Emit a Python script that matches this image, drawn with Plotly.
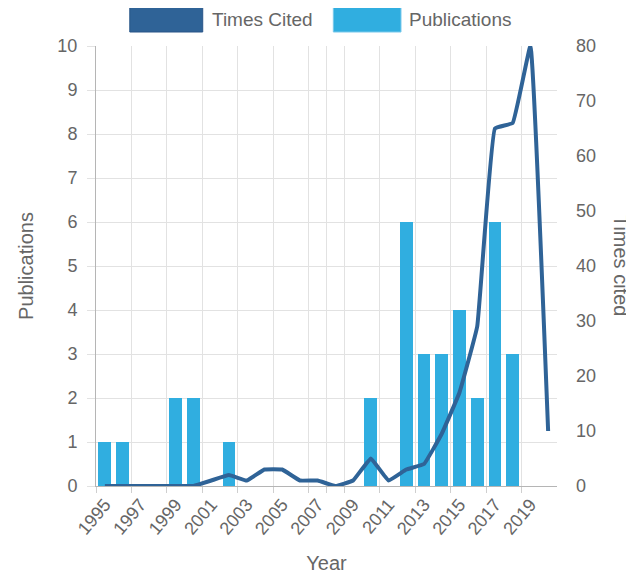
import plotly.graph_objects as go

years = list(range(1995, 2021))
publications = [1, 1, 0, 0, 2, 2, 0, 1, 0, 0, 0, 0, 0, 0, 0, 2, 0, 6, 3, 3, 4, 2, 6, 3, 0, 0]
times_cited = [0, 0, 0, 0, 0, 0, 1, 2, 1, 3, 3, 1, 1, 0, 1, 5, 1, 3, 4, 9.5, 17, 29, 65, 66, 80, 10]
tick_years = list(range(1995, 2021, 2))
grid_bounds = [y - 0.5 for y in tick_years] + [2007.5]

BAR = "rgb(48,174,224)"
LINE = "rgb(47,99,151)"
TXT = "#666666"
GRID = "#e2e2e2"
FONT = "Liberation Sans, Arial, sans-serif"

fig = go.Figure()
fig.add_trace(go.Bar(x=years, y=publications, marker=dict(color=BAR, line=dict(width=0)),
                     width=0.72, name="Publications", showlegend=False))
fig.add_trace(go.Scatter(x=years, y=times_cited, yaxis="y2", mode="lines",
                         line=dict(color=LINE, width=4, shape="spline", smoothing=0.25),
                         name="Times Cited", showlegend=False))

fig.update_layout(
    width=626, height=566,
    margin=dict(l=88, r=77, t=38, b=88),
    plot_bgcolor="white", paper_bgcolor="white",
    font=dict(family=FONT, color=TXT, size=18),
    bargap=0,
    xaxis=dict(
        range=[1994.5, 2020.5], tickvals=tick_years, ticktext=[str(y) for y in tick_years],
        tickangle=-50, showgrid=False, zeroline=False, automargin=False,
        showline=True, linecolor="#b5b5b5", linewidth=1,
        ticks="", tickfont=dict(size=18, color=TXT),
        minor=dict(tickvals=grid_bounds, showgrid=True, gridcolor=GRID, gridwidth=1,
                   ticks="outside", ticklen=6, tickcolor="#cfcfcf"),
        title=dict(text="Year", font=dict(size=20, color=TXT), standoff=19),
    ),
    yaxis=dict(
        range=[0, 10], tickvals=list(range(0, 11)), showgrid=True, gridcolor=GRID,
        zeroline=False, showline=True, linecolor="#b5b5b5", linewidth=1, automargin=False,
        ticks="outside", ticklen=8, tickcolor=GRID, ticklabelstandoff=6,
        tickfont=dict(size=18, color=TXT),
        title=dict(text="Publications", font=dict(size=20, color=TXT), standoff=18),
    ),
    yaxis2=dict(
        range=[0, 80], tickvals=list(range(0, 81, 10)), overlaying="y", side="right",
        showgrid=False, zeroline=False, showline=False, ticks="", automargin=False,
        ticklabelstandoff=18, tickfont=dict(size=18, color=TXT),
    ),
)

# right axis title (reads top-to-bottom)
fig.add_annotation(text="Times cited", xref="paper", yref="paper", x=1.139, y=0.5,
                   textangle=90, showarrow=False, font=dict(size=20, color=TXT),
                   xanchor="center", yanchor="middle")

# custom legend with wide colour boxes
fig.add_shape(type="rect", xref="paper", yref="paper", x0=0.0733, x1=0.2315,
              y0=1.0318, y1=1.0879, fillcolor=LINE, line=dict(color="rgb(40,85,135)", width=1))
fig.add_annotation(text="Times Cited", xref="paper", yref="paper", x=0.2466, y=1.0605,
                   xanchor="left", yanchor="middle", showarrow=False,
                   font=dict(size=19, color=TXT))
fig.add_shape(type="rect", xref="paper", yref="paper", x0=0.5148, x1=0.6616,
              y0=1.0318, y1=1.0879, fillcolor=BAR, line=dict(color="rgb(120,200,235)", width=1))
fig.add_annotation(text="Publications", xref="paper", yref="paper", x=0.6757, y=1.0605,
                   xanchor="left", yanchor="middle", showarrow=False,
                   font=dict(size=19, color=TXT))

fig.write_html("out.html")
